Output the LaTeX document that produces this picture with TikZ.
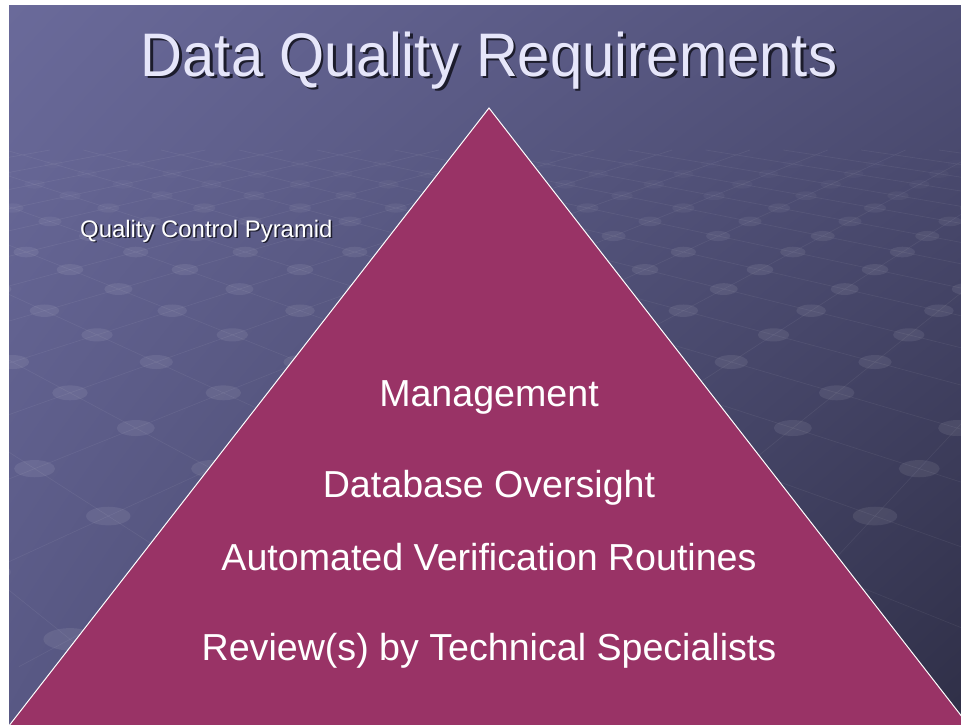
\documentclass[tikz,border=0pt]{standalone}
\usepackage{fontspec}
\setmainfont{Liberation Sans}
\usetikzlibrary{shadings}
\definecolor{bgUL}{HTML}{6A6A9A}
\definecolor{bgUR}{HTML}{505078}
\definecolor{bgLL}{HTML}{585884}
\definecolor{bgLR}{HTML}{2F2F47}
\definecolor{pyrfill}{HTML}{993366}
\definecolor{titlecol}{HTML}{E6E6FA}
\definecolor{shadowcol}{HTML}{1C1C2C}
\newcommand\gridspacing{0.22}
\newcommand\screenpt[2]{%
  \pgfmathsetmacro\myZ{(#1+#2)*\gridspacing*0.70711}%
  \pgfmathsetmacro\myX{(#1-#2)*\gridspacing*0.70711}%
  \pgfmathsetmacro\myPx{300+1150*\myX/\myZ}%
  \pgfmathsetmacro\myPy{-100+1150/\myZ}}
\begin{document}
\begin{tikzpicture}[x=1pt,y=-1pt,
  bgline/.style={draw=white,draw opacity=0.06,line width=0.7pt},
  bgdot/.style={fill=white},
  pyrtext/.style={text=white,font=\fontsize{37.6}{44}\selectfont,inner sep=0pt,anchor=base},
  titletext/.style={text=titlecol,font=\fontsize{58}{66}\selectfont,inner sep=0pt,anchor=base,yscale=1.06},
  titleshadow/.style={text=shadowcol,font=\fontsize{58}{66}\selectfont,inner sep=0pt,anchor=base,yscale=1.06},
  subtext/.style={text=white,font=\fontsize{23.9}{28}\selectfont,inner sep=0pt,anchor=base west},
  subshadow/.style={text=shadowcol,font=\fontsize{23.9}{28}\selectfont,inner sep=0pt,anchor=base west}]
\useasboundingbox (0,0) rectangle (961,724);
\fill[white] (0,0) rectangle (961,724);
\shade[upper left=bgUL,upper right=bgUR,lower left=bgLL,lower right=bgLR] (9,5) rectangle (961,724);
\begin{scope}
\clip (9,5) rectangle (961,724);
% perspective grid lines
\foreach \b in {-6,...,20}{
  \pgfmathsetmacro\aone{1.5*1.41421/\gridspacing-\b}
  \pgfmathsetmacro\atwo{4.6*1.41421/\gridspacing-\b}
  \screenpt{\aone}{\b}\coordinate (p1) at (\myPx,\myPy);
  \screenpt{\atwo}{\b}\coordinate (p2) at (\myPx,\myPy);
  \draw[bgline] (p1) -- (p2);
}
\foreach \a in {0,...,26}{
  \pgfmathsetmacro\bone{1.5*1.41421/\gridspacing-\a}
  \pgfmathsetmacro\btwo{4.6*1.41421/\gridspacing-\a}
  \screenpt{\a}{\bone}\coordinate (q1) at (\myPx,\myPy);
  \screenpt{\a}{\btwo}\coordinate (q2) at (\myPx,\myPy);
  \draw[bgline] (q1) -- (q2);
}
% dots
\foreach \a in {0,...,26}{
  \foreach \b in {-6,...,20}{
    \ifnum\numexpr\a+\b\relax>8
    \ifnum\numexpr\a+\b\relax<31
      \screenpt{\a}{\b}%
      \pgfmathsetmacro\rx{1150*0.036/\myZ}%
      \pgfmathsetmacro\ry{0.42*\rx}%
      \pgfmathsetmacro\op{max(0,min(0.08,0.08*(4.6-\myZ)/1.4))}%
      \fill[bgdot,fill opacity=\op] (\myPx,\myPy) ellipse [x radius=\rx,y radius=\ry];
    \fi\fi
  }
}
% pyramid
\coordinate (apex) at (489,108);
\coordinate (bl) at (-17.6,760);
\coordinate (br) at (995.6,760);
\filldraw[fill=pyrfill,draw=white,line width=1pt,line join=miter] (apex) -- (bl) -- (br) -- cycle;
\end{scope}
% title
\node[titleshadow] (titleshadow) at (491.5,78.5) {Data Quality Requirements};
\node[titletext] (title) at (489,76) {Data Quality Requirements};
% subtitle
\node[subshadow] (subshadow) at (81.5,238.5) {Quality Control Pyramid};
\node[subtext] (sub) at (80,237) {Quality Control Pyramid};
% pyramid labels
\node[pyrtext] (l1) at (489,406) {Management};
\node[pyrtext] (l2) at (489,497) {Database Oversight};
\node[pyrtext] (l3) at (489,570) {Automated Verification Routines};
\node[pyrtext] (l4) at (489,660) {Review(s) by Technical Specialists};
\end{tikzpicture}
\end{document}
